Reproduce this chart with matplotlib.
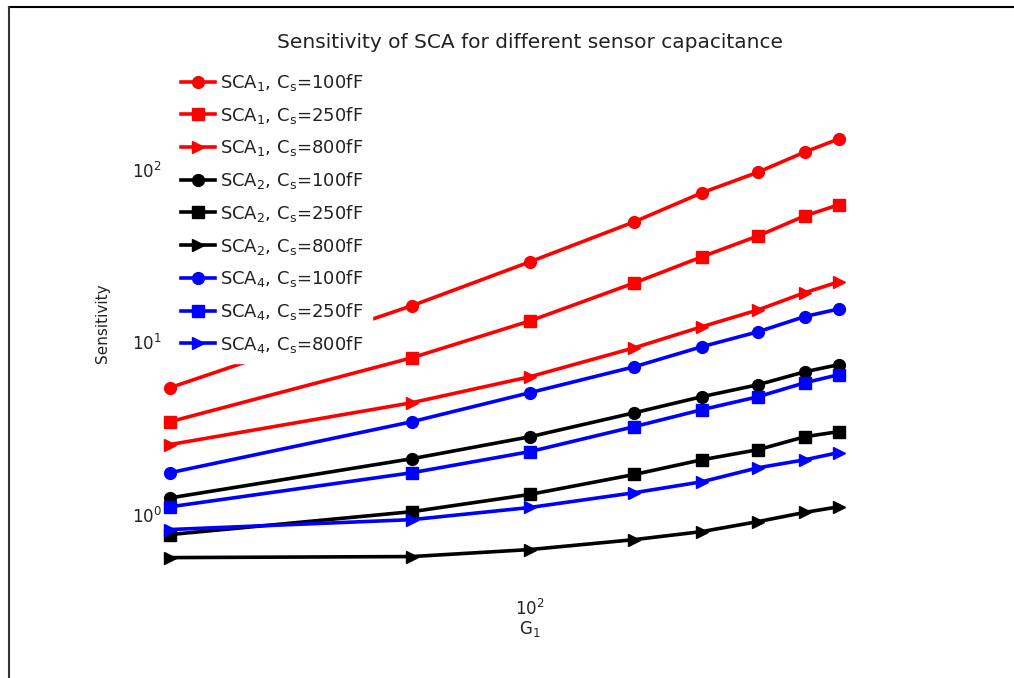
import matplotlib
matplotlib.use("Agg")
import matplotlib.pyplot as plt
from matplotlib.lines import Line2D

plt.rcParams['font.family'] = ['DejaVu Sans']
plt.rcParams['mathtext.fontset'] = 'dejavusans'

# G1 values (x axis)
g1 = [10, 47, 100, 195, 300, 430, 580, 720]

sca1_100 = [5.45, 16.3, 29.3, 50.0, 73.6, 97.0, 127.0, 151.0]
sca1_250 = [3.46, 8.13, 13.3, 22.1, 31.3, 41.4, 54.1, 62.7]
sca1_800 = [2.55, 4.46, 6.31, 9.29, 12.3, 15.4, 19.4, 22.4]
sca2_100 = [1.25, 2.11, 2.83, 3.90, 4.83, 5.67, 6.74, 7.41]
sca2_250 = [0.766, 1.04, 1.31, 1.71, 2.08, 2.38, 2.83, 3.03]
sca2_800 = [0.563, 0.571, 0.627, 0.716, 0.797, 0.911, 1.03, 1.11]
sca4_100 = [1.75, 3.46, 5.10, 7.21, 9.42, 11.5, 14.1, 15.6]
sca4_250 = [1.11, 1.75, 2.32, 3.24, 4.06, 4.83, 5.82, 6.48]
sca4_800 = [0.819, 0.935, 1.10, 1.34, 1.55, 1.87, 2.08, 2.29]

series = [
    (sca1_100, 'r', 'o', r'SCA$_{1}$, C$_{\mathrm{s}}$=100fF'),
    (sca1_250, 'r', 's', r'SCA$_{1}$, C$_{\mathrm{s}}$=250fF'),
    (sca1_800, 'r', '>', r'SCA$_{1}$, C$_{\mathrm{s}}$=800fF'),
    (sca2_100, 'k', 'o', r'SCA$_{2}$, C$_{\mathrm{s}}$=100fF'),
    (sca2_250, 'k', 's', r'SCA$_{2}$, C$_{\mathrm{s}}$=250fF'),
    (sca2_800, 'k', '>', r'SCA$_{2}$, C$_{\mathrm{s}}$=800fF'),
    (sca4_100, 'b', 'o', r'SCA$_{4}$, C$_{\mathrm{s}}$=100fF'),
    (sca4_250, 'b', 's', r'SCA$_{4}$, C$_{\mathrm{s}}$=250fF'),
    (sca4_800, 'b', '>', r'SCA$_{4}$, C$_{\mathrm{s}}$=800fF'),
]

fig = plt.figure(figsize=(10.14, 6.78), dpi=100)
ax = fig.add_axes([0.1677, 0.1327, 0.710, 0.7818])

for vals, c, m, lab in series:
    ax.plot(g1, vals, color=c, marker=m, lw=2.6, ms=8.5, label=lab, clip_on=False)

ax.set_xscale('log')
ax.set_yscale('log')
ax.set_xlim(10, 1000)
ax.set_ylim(0.375, 446)
ax.set_xticks([100])
ax.set_xticklabels([r'10$^{2}$'])
ax.set_yticks([1, 10, 100])
ax.set_yticklabels([r'10$^{0}$', r'10$^{1}$', r'10$^{2}$'])
ax.minorticks_off()
ax.tick_params(length=0, labelsize=12, pad=6, labelcolor='#222222')
ax.tick_params(axis='x', pad=8)
for s in ax.spines.values():
    s.set_visible(False)

ax.set_title('Sensitivity of SCA for different sensor capacitance', fontsize=14.5, pad=7,
             color='#222222')
ax.set_xlabel(r'G$_{1}$', fontsize=12, labelpad=0, color='#222222')
ax.set_ylabel('Sensitivity', fontsize=11, labelpad=16, color='#222222')

leg = ax.legend(loc='upper left', bbox_to_anchor=(0.170, 0.906), bbox_transform=fig.transFigure,
                frameon=True, fontsize=13, handlelength=1.9, handletextpad=0.3,
                labelspacing=0.65, borderpad=0.45, borderaxespad=0)
leg.get_frame().set_edgecolor('white')
leg.get_frame().set_facecolor('white')
leg.get_frame().set_alpha(1)
for t in leg.get_texts():
    t.set_color('#222222')

# figure border (top and left)
fig.add_artist(Line2D([0.009, 1.0], [0.990, 0.990], transform=fig.transFigure, color='black', lw=1.5))
fig.add_artist(Line2D([0.009, 0.009], [0.0, 0.990], transform=fig.transFigure, color='#333333', lw=1.5))

fig.savefig('out.png', dpi=100)
